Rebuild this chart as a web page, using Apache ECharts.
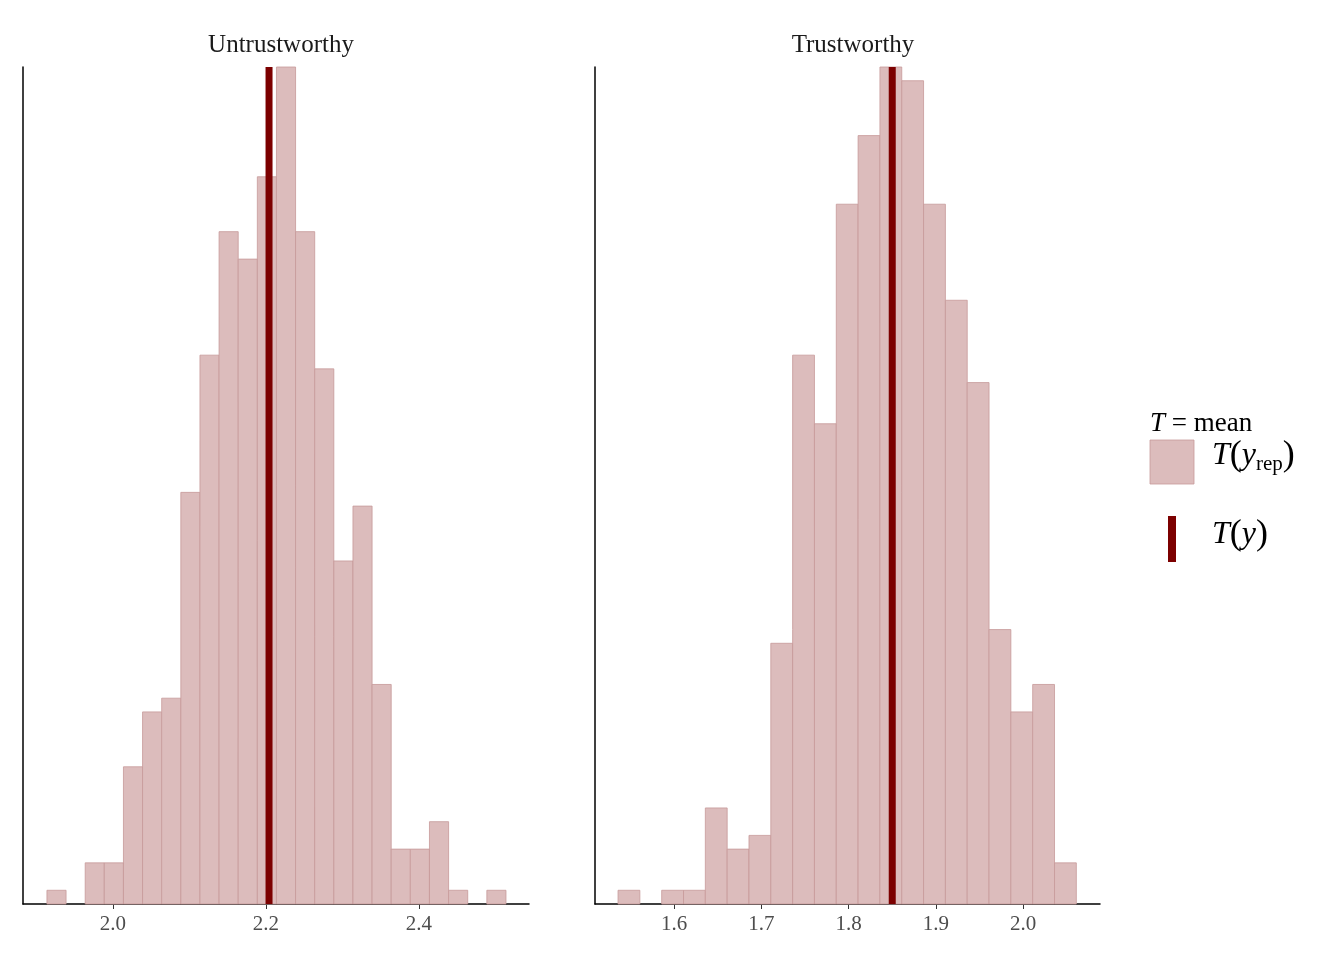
<!DOCTYPE html><html><head><meta charset="utf-8">
<script src="https://cdn.jsdelivr.net/npm/echarts@6/dist/echarts.min.js"></script>
<style>html,body{margin:0;background:#fff}#c{width:1344px;height:960px}</style></head><body><div id="c"></div>
<script>
const panelTitles = ["Untrustworthy", "Trustworthy"];
const binWidth = 0.025;
const leftBinStart = 1.9137;
const leftCounts = [1,0,3,3,10,14,15,30,40,49,47,53,61,49,39,25,29,16,4,4,6,1,0,1];
const leftObserved = 2.204;
const rightBinStart = 1.5359;
const rightCounts = [1,0,1,1,7,4,5,19,40,35,51,56,61,60,51,44,38,20,14,16,3];
const rightObserved = 1.850;
const leftTicks = [2.0, 2.2, 2.4];
const rightTicks = [1.6, 1.7, 1.8, 1.9, 2.0];

const FONT = "Liberation Serif";
const fill = "#dcbcbc", edge = "#c79999", dark = "#7c0000";

function bins(start, counts){ return counts.map((c,i)=>[start+i*binWidth, start+(i+1)*binWidth, c]); }
function renderBar(params, api){
  const a = api.coord([api.value(0), api.value(2)]);
  const b = api.coord([api.value(1), 0]);
  if (api.value(2) <= 0) return null;
  return {type:'rect', shape:{x:a[0], y:a[1], width:b[0]-a[0], height:b[1]-a[1]},
    style:{fill:fill, stroke:edge, lineWidth:0.8}};
}
function xAxis(idx, min, max, ticks){
  return {type:'value', gridIndex:idx, min:min, max:max, splitLine:{show:false},
    axisLine:{lineStyle:{color:'#000', width:1.5}},
    axisTick:{customValues:ticks, length:5, lineStyle:{color:'#333'}},
    axisLabel:{customValues:ticks, color:'#4d4d4d', fontFamily:FONT, fontSize:21, margin:10, formatter:v=>v.toFixed(1)}};
}
function yAxis(idx, max){
  return {type:'value', gridIndex:idx, min:0, max:max, axisLine:{show:true, lineStyle:{color:'#000', width:1.5}},
    axisTick:{show:false}, axisLabel:{show:false}, splitLine:{show:false}};
}
const chart = echarts.init(document.getElementById('c'));
chart.setOption({
  animation:false,
  title:[
    {text:panelTitles[0], left:276, top:28, textAlign:'center', textStyle:{fontFamily:FONT, fontSize:25, fontWeight:'normal', color:'#1a1a1a'}},
    {text:panelTitles[1], left:848, top:28, textAlign:'center', textStyle:{fontFamily:FONT, fontSize:25, fontWeight:'normal', color:'#1a1a1a'}}
  ],
  grid:[{left:23, width:506, top:67, height:837}, {left:595, width:505, top:67, height:837}],
  xAxis:[xAxis(0, 1.8824, 2.5438, leftTicks), xAxis(1, 1.5095, 2.088, rightTicks)],
  yAxis:[yAxis(0, Math.max(...leftCounts)), yAxis(1, Math.max(...rightCounts))],
  series:[
    {type:'custom', xAxisIndex:0, yAxisIndex:0, data:bins(leftBinStart,leftCounts), renderItem:renderBar, encode:{x:[0,1], y:2}},
    {type:'custom', xAxisIndex:1, yAxisIndex:1, data:bins(rightBinStart,rightCounts), renderItem:renderBar, encode:{x:[0,1], y:2}},
    {type:'line', xAxisIndex:0, yAxisIndex:0, symbol:'none', data:[[leftObserved,0],[leftObserved,Math.max(...leftCounts)]], lineStyle:{color:dark, width:7}},
    {type:'line', xAxisIndex:1, yAxisIndex:1, symbol:'none', data:[[rightObserved,0],[rightObserved,Math.max(...rightCounts)]], lineStyle:{color:dark, width:7}}
  ],
  graphic:[
    {type:'text', left:1150, top:410, style:{text:'{i|T} = mean', fontFamily:FONT, fontSize:27, fill:'#000', rich:{i:{fontStyle:'italic', fontFamily:FONT, fontSize:27}}}},
    {type:'rect', shape:{x:1150, y:440, width:44, height:44}, style:{fill:fill, stroke:edge, lineWidth:0.8}},
    {type:'text', left:1212, top:438, style:{text:'{i|T}{p|(}{i|y}{s|rep}{p|)}', fontFamily:FONT, fontSize:30, fill:'#000', rich:{i:{fontStyle:'italic', fontFamily:FONT, fontSize:32}, p:{fontFamily:FONT, fontSize:36}, s:{fontFamily:FONT, fontSize:21, padding:[16,0,0,0]}}}},
    {type:'rect', shape:{x:1168, y:516, width:8, height:46}, style:{fill:dark}},
    {type:'text', left:1212, top:517, style:{text:'{i|T}{p|(}{i|y}{p|)}', fontFamily:FONT, fontSize:30, fill:'#000', rich:{i:{fontStyle:'italic', fontFamily:FONT, fontSize:32}, p:{fontFamily:FONT, fontSize:36}}}}
  ]
});
</script></body></html>
